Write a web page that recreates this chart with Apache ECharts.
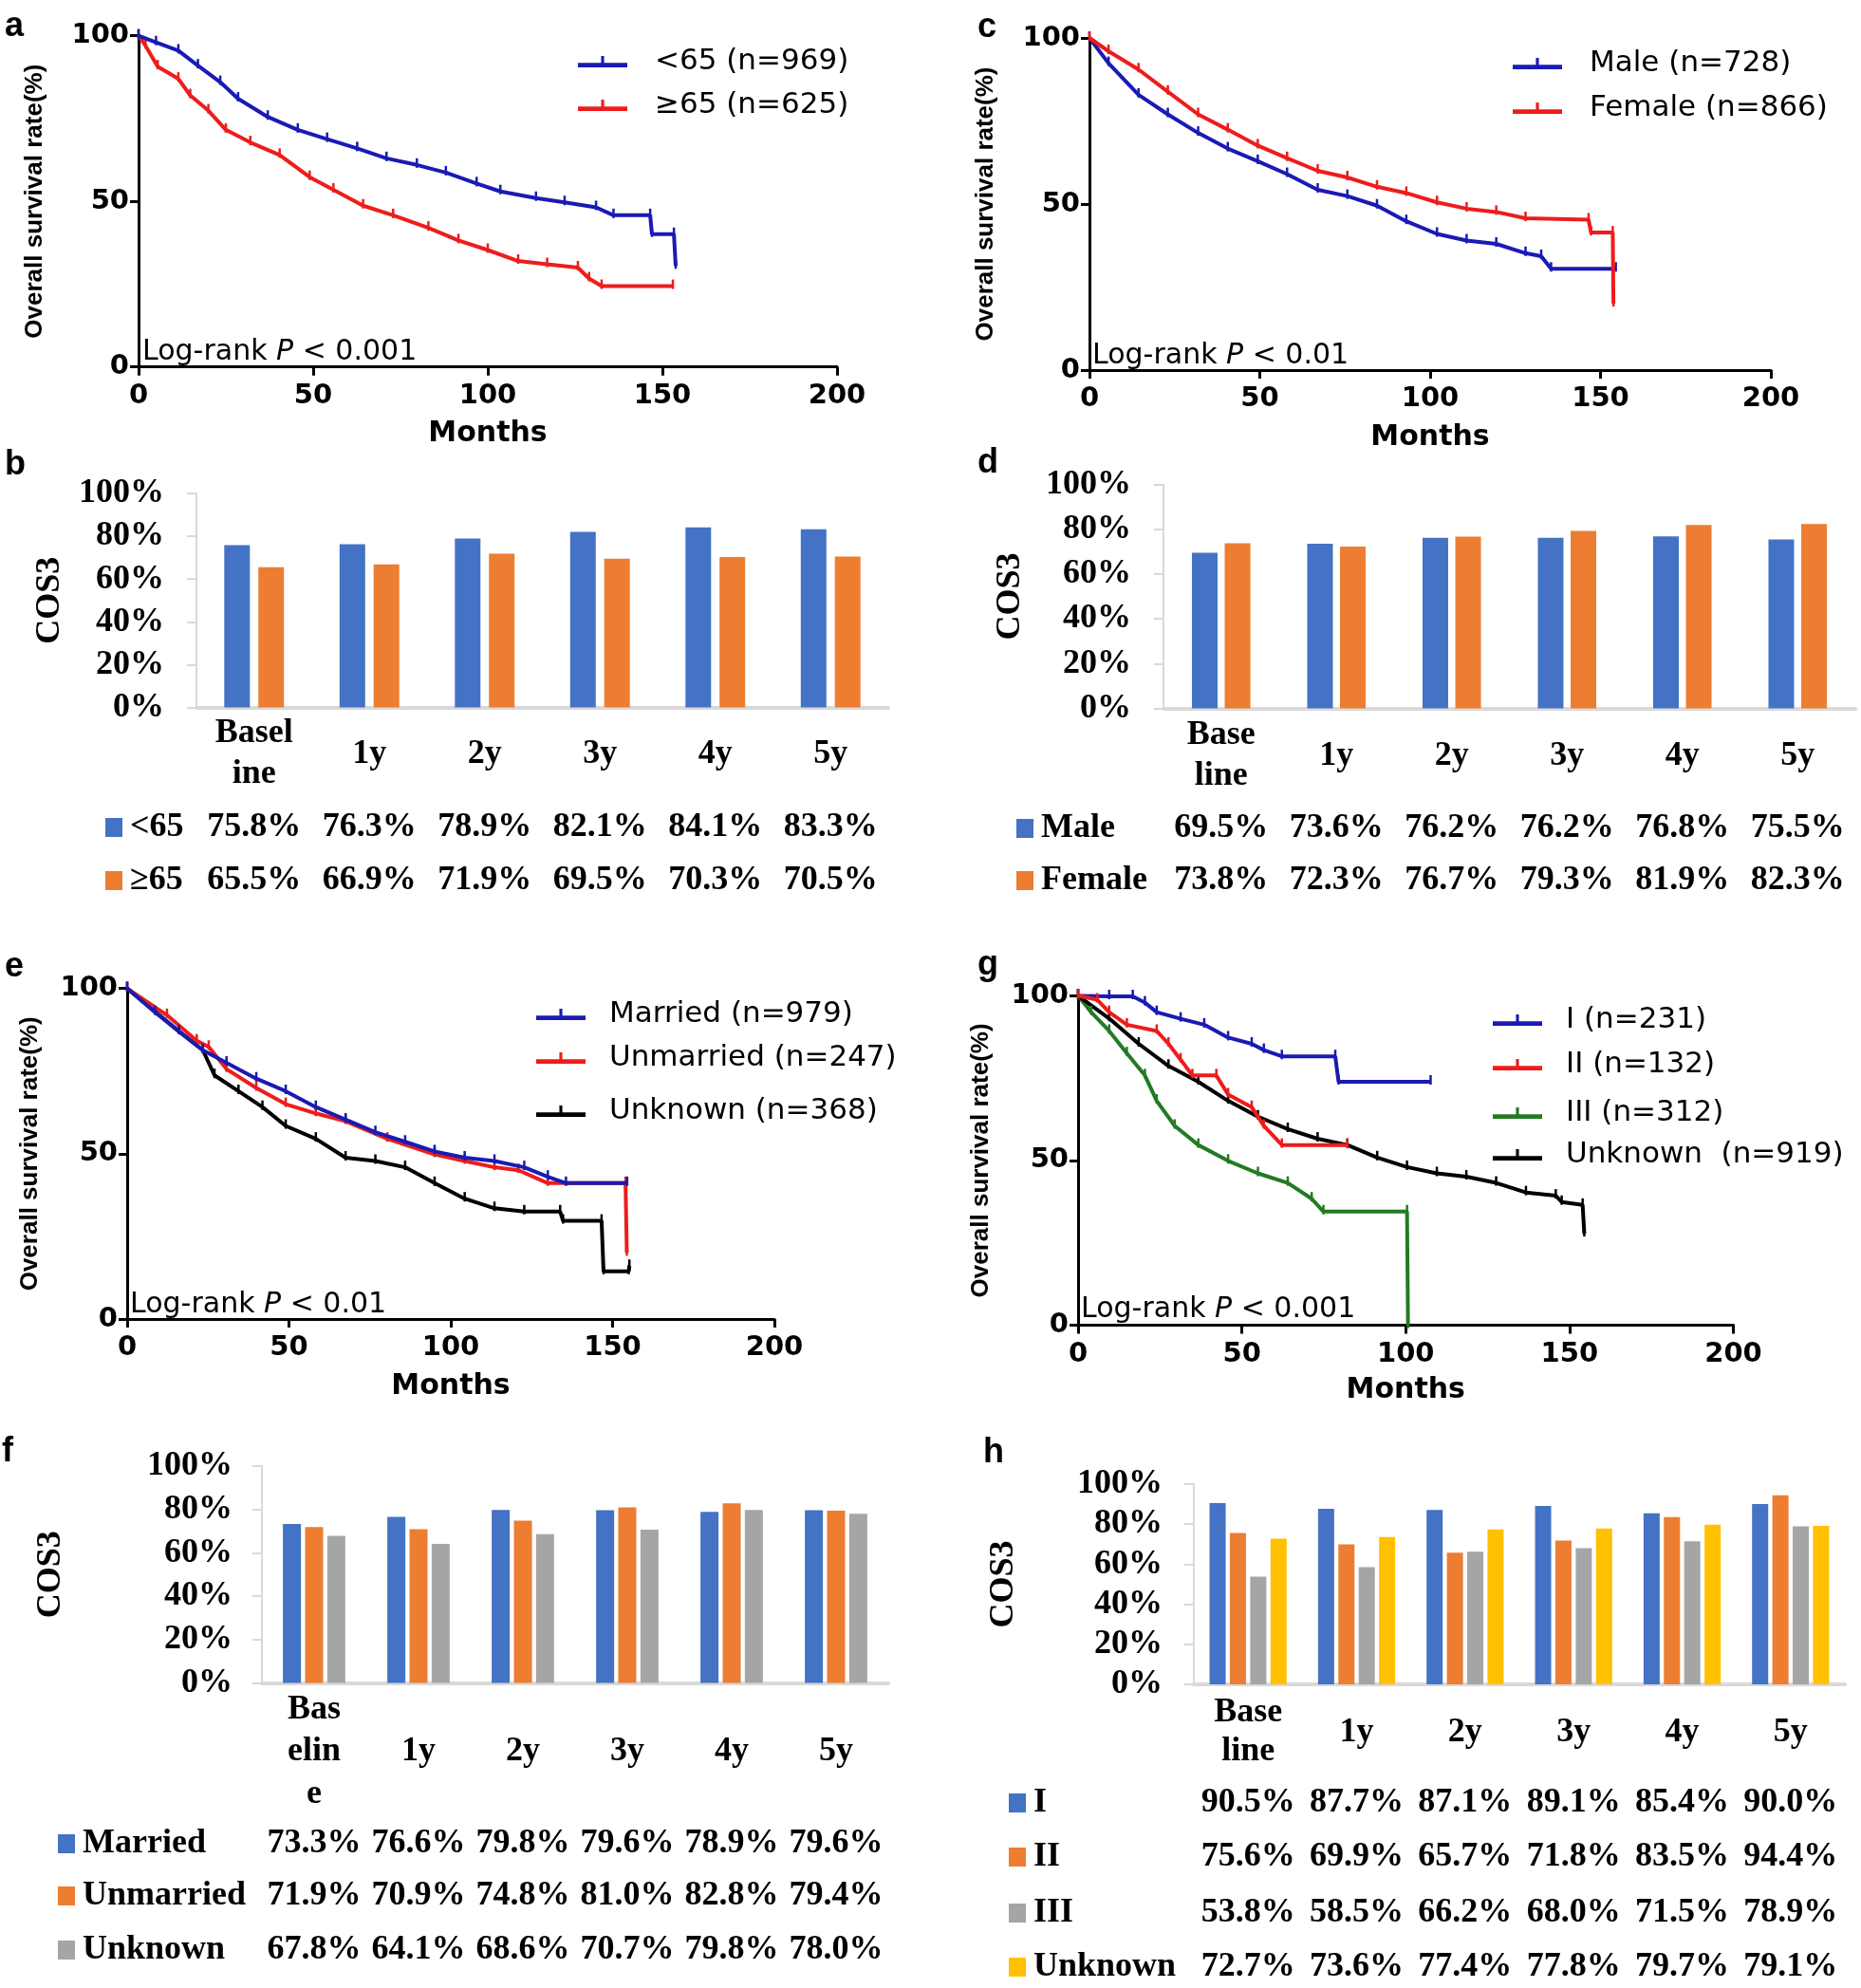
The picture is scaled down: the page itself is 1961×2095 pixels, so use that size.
<!DOCTYPE html>
<html><head><meta charset="utf-8">
<script src="https://cdn.jsdelivr.net/npm/echarts@6/dist/echarts.min.js"></script>
<style>html,body{margin:0;padding:0;background:#fff}#c{width:1961px;height:2095px}</style>
</head><body><div id="c"></div>
<script>
// ================= DATA =================
// Kaplan-Meier curves: [months, survival %]
const kmA_names = ['<65 (n=969)', '≥65 (n=625)'];
const kmA_lt65 = [[0,100],[5,98],[11.4,95.5],[17,91],[23.4,86],[28.5,81],[37,75.5],[45.6,71.6],[54,68.8],[62.6,66],[71,63],[79.7,61],[88,58.7],[96.8,55.4],[103.6,53],[113.8,51],[122,49.7],[131,48.2],[136,45.8],[146.5,45.8],[147,40.1],[153.3,40.1],[153.8,30.5]];
const kmA_ge65 = [[0,100],[2,97],[5.5,90.7],[11.4,87],[14.8,82],[20,77.4],[25,71.6],[32,67.8],[40.4,64],[49,57.3],[55.8,53.5],[64.3,48.7],[72.9,45.8],[83,42],[91.6,38.2],[100,35.3],[108.7,32],[117,31],[125.8,30],[129,26.7],[132.6,24.4],[153,24.4]];

const kmC_names = ['Male (n=728)', 'Female (n=866)'];
const kmC_male = [[0,100],[5.6,92.4],[14.4,82.9],[23,77],[31.9,71.4],[40.6,66.7],[49.4,62.9],[58,59],[67,54.3],[75.7,52.4],[84.4,49.5],[93,44.8],[102,41],[110.7,39],[119.4,38],[128,35.2],[132.6,34.3],[135.5,30.5],[154.5,30.5]];
const kmC_female = [[0,100],[5.6,96],[14.4,90.5],[23,83.8],[31.9,77],[40.6,72.4],[49.4,67.6],[58,63.8],[67,60],[75.7,58],[84.4,55.2],[93,53.3],[102,50.5],[110.7,48.6],[119.4,47.6],[128,45.7],[146.5,45.3],[147.2,41.4],[153.6,41.4],[153.8,20]];

const kmE_names = ['Married (n=979)', 'Unmarried (n=247)', 'Unknown (n=368)'];
const kmE_married = [[0,100],[8.6,92.8],[16,87],[23.4,81.3],[30.7,77.5],[39.9,72.7],[49,68.9],[58.3,64.1],[67.5,60.3],[76.7,56.5],[85.9,53.6],[95,50.7],[104.3,48.8],[113.5,47.8],[122.7,45.9],[130,43],[135.6,41.1],[154.5,41.1]];
const kmE_unmarried = [[0,100],[12.3,91.9],[21.5,84.2],[25.2,82.3],[30.7,75.6],[39.9,69.9],[49,65],[58.3,62.2],[67.5,59.8],[80.4,54.5],[95,49.8],[104.3,47.8],[113.5,45.9],[120.9,45],[130,41.1],[154,41.1],[154.4,20]];
const kmE_unknown = [[0,100],[16,87],[23.4,81.3],[27,73.7],[34.4,68.9],[41.8,64.1],[49,58.4],[58.3,54.5],[67.5,48.8],[76.7,47.8],[85.9,45.9],[95,41.1],[104.3,36.4],[113.5,33.5],[122.7,32.5],[133.8,32.5],[134.7,29.7],[146.6,29.7],[147.2,14.4],[155,14.4],[155.2,16]];

const kmG_names = ['I (n=231)', 'II (n=132)', 'III (n=312)', 'Unknown  (n=919)'];
const kmG_I = [[0,100],[9.5,99.8],[16.7,99.8],[20.4,97.9],[24,95],[31.3,93],[38.5,91.2],[45.8,87.3],[53,85.4],[56.7,83.5],[62.2,81.6],[78.5,81.6],[79.5,73.9],[107.6,73.9]];
const kmG_II = [[0,100],[5.8,98.8],[9.5,95],[14.9,91.2],[24,89.3],[27.6,85.4],[31.3,80.6],[34.9,75.8],[42.2,75.8],[45.8,70],[53,66.2],[56.7,60.5],[62.2,54.7],[82.2,54.7]];
const kmG_III = [[0,100],[4,95],[9.5,89.3],[14.9,82.5],[20.4,75.8],[24,68.1],[29.5,60.5],[36.7,54.7],[45.8,49.9],[54.9,46.1],[64,43.2],[71.3,38.4],[74.9,34.5],[100.4,34.5],[100.7,0]];
const kmG_unknown = [[0,100],[9.5,93.1],[18.5,85.4],[27.6,78.7],[36.7,73.9],[45.8,68.1],[54.9,63.3],[64,59.5],[73.1,56.6],[82.2,54.7],[91.3,50.9],[100.4,48],[109.5,46.1],[118.5,45.1],[127.6,43.2],[136.7,40.3],[145.8,39.3],[147.6,37.4],[154,36.5],[154.5,27.8]];

const kmPvalues = ['< 0.001', '< 0.01', '< 0.01', '< 0.001'];

// COS3 bar charts (%)
const barB_categories = ['Basel\nine', '1y', '2y', '3y', '4y', '5y'];
const barB_names = ['<65', '≥65'];
const barB_lt65 = [75.8, 76.3, 78.9, 82.1, 84.1, 83.3];
const barB_ge65 = [65.5, 66.9, 71.9, 69.5, 70.3, 70.5];

const barD_categories = ['Base\nline', '1y', '2y', '3y', '4y', '5y'];
const barD_names = ['Male', 'Female'];
const barD_male = [69.5, 73.6, 76.2, 76.2, 76.8, 75.5];
const barD_female = [73.8, 72.3, 76.7, 79.3, 81.9, 82.3];

const barF_categories = ['Bas\nelin\ne', '1y', '2y', '3y', '4y', '5y'];
const barF_names = ['Married', 'Unmarried', 'Unknown'];
const barF_married = [73.3, 76.6, 79.8, 79.6, 78.9, 79.6];
const barF_unmarried = [71.9, 70.9, 74.8, 81.0, 82.8, 79.4];
const barF_unknown = [67.8, 64.1, 68.6, 70.7, 79.8, 78.0];

const barH_categories = ['Base\nline', '1y', '2y', '3y', '4y', '5y'];
const barH_names = ['I', 'II', 'III', 'Unknown'];
const barH_I = [90.5, 87.7, 87.1, 89.1, 85.4, 90.0];
const barH_II = [75.6, 69.9, 65.7, 71.8, 83.5, 94.4];
const barH_III = [53.8, 58.5, 66.2, 68.0, 71.5, 78.9];
const barH_unknown = [72.7, 73.6, 77.4, 77.8, 79.7, 79.1];

const kmTicks = {xmin: 0, xmax: 200, xint: 50, ymin: 0, ymax: 100, yint: 50};
const barTicks = {ymin: 0, ymax: 100, yint: 20};

// ================= STYLE / BUILD =================
const SANS = 'DejaVu Sans';
const ARIAL = 'Liberation Sans';
const SERIF = 'Liberation Serif';
const KM_BLUE = '#1a1ab4', KM_RED = '#ee1c1c', KM_GREEN = '#237a23', KM_BLACK = '#000000';
const C_BLUE = '#4472C4', C_ORANGE = '#ED7D31', C_GRAY = '#A5A5A5', C_YELLOW = '#FFC000';
const KM_ICON = 'path://M0,9 L50,9 L50,13.5 L0,13.5 Z M23.5,2 L26.5,2 L26.5,9 L23.5,9 Z';

const option = {
  animation: false, backgroundColor: '#ffffff',
  grid: [], xAxis: [], yAxis: [], series: [], legend: [], graphic: []
};

function panelLabel(t, x, y) {
  option.graphic.push({type: 'text', x: x, y: y, silent: true,
    style: {text: t, fill: '#000', font: 'bold 36px "Liberation Sans"', verticalAlign: 'middle'}});
}

function addKM(cfg) {
  const gi = option.grid.length;
  option.grid.push({left: cfg.left, top: cfg.top, width: cfg.width, height: cfg.height});
  const xi = option.xAxis.length;
  option.xAxis.push({type: 'value', gridIndex: gi, min: kmTicks.xmin, max: kmTicks.xmax, interval: kmTicks.xint,
    name: 'Months', nameLocation: 'middle', nameGap: cfg.xNameGap,
    nameTextStyle: {fontFamily: SANS, fontWeight: 'bold', fontSize: 30, color: '#000'},
    axisLine: {show: true, onZero: false, lineStyle: {color: '#000', width: 3}},
    axisTick: {show: true, length: 9, lineStyle: {color: '#000', width: 3}},
    axisLabel: {fontFamily: SANS, fontWeight: 'bold', fontSize: 29, color: '#000', margin: 16},
    splitLine: {show: false}});
  const yi = option.yAxis.length;
  option.yAxis.push({type: 'value', gridIndex: gi, min: kmTicks.ymin, max: kmTicks.ymax, interval: kmTicks.yint,
    name: 'Overall survival rate(%)', nameLocation: 'middle', nameGap: cfg.yNameGap, nameRotate: 90,
    nameTextStyle: {fontFamily: ARIAL, fontWeight: 'bold', fontSize: 26, color: '#000'},
    axisLine: {show: true, onZero: false, lineStyle: {color: '#000', width: 3}},
    axisTick: {show: true, length: 9, lineStyle: {color: '#000', width: 3}},
    axisLabel: {fontFamily: SANS, fontWeight: 'bold', fontSize: 29, color: '#000', margin: 10},
    splitLine: {show: false}});
  cfg.series.forEach(function (s, k) {
    const nm = cfg.key + '|' + s.name;
    option.series.push({type: 'line', name: nm, xAxisIndex: xi, yAxisIndex: yi, data: s.data,
      showSymbol: true, showAllSymbol: true, symbol: 'rect', symbolSize: [2.5, 10], symbolOffset: [0, -2],
      lineStyle: {color: s.color, width: 4}, itemStyle: {color: s.color},
      emphasis: {disabled: true}, z: s.z || 2});
    option.legend.push({left: cfg.legendLeft, top: cfg.legendRows[k] - 17, padding: 0, orient: 'vertical',
      itemWidth: 52, itemHeight: 15, icon: KM_ICON, data: [nm], selectedMode: false,
      formatter: function (n) { return n.split('|')[1]; },
      textStyle: {fontFamily: SANS, fontSize: 31, color: '#000', lineHeight: 34, padding: [0, 0, 0, cfg.legendPad]}});
  });
  option.graphic.push({type: 'text', x: cfg.pX, y: cfg.pY, silent: true,
    style: {text: '{n|Log-rank }{i|P}{n| ' + cfg.p + '}', fill: '#000', verticalAlign: 'middle',
      rich: {n: {fontFamily: SANS, fontSize: 30, fill: '#000'}, i: {fontFamily: SANS, fontStyle: 'italic', fontSize: 30, fill: '#000'}}}});
}

function addBar(cfg) {
  const gi = option.grid.length;
  option.grid.push({left: cfg.left, top: cfg.top, width: cfg.width, height: cfg.height});
  const xi = option.xAxis.length;
  const tfont = {fontFamily: SERIF, fontWeight: 'bold', fontSize: 36, color: '#000'};
  option.xAxis.push({type: 'category', gridIndex: gi, data: cfg.categories,
    axisLine: {show: true, lineStyle: {color: '#D9D9D9', width: 4}}, axisTick: {show: false},
    axisLabel: Object.assign({interval: 0, margin: cfg.catMargin, verticalAlign: 'middle', lineHeight: cfg.catLineHeight}, tfont),
    splitLine: {show: false}});
  cfg.series.forEach(function (s, k) {
    option.xAxis.push({type: 'category', gridIndex: gi, data: cfg.categories, position: 'bottom', offset: cfg.rowOffsets[k],
      axisLine: {show: false}, axisTick: {show: false}, splitLine: {show: false},
      axisLabel: Object.assign({interval: 0, margin: 0, verticalAlign: 'middle',
        formatter: function (v, i) { return s.values[i].toFixed(1) + '%'; }}, tfont)});
  });
  const yi = option.yAxis.length;
  option.yAxis.push({type: 'value', gridIndex: gi, min: barTicks.ymin, max: barTicks.ymax, interval: barTicks.yint,
    name: 'COS3', nameLocation: 'middle', nameGap: cfg.yNameGap, nameRotate: 90,
    nameTextStyle: {fontFamily: SERIF, fontWeight: 'bold', fontSize: 36, color: '#000'},
    axisLine: {show: true, lineStyle: {color: '#D9D9D9', width: 2}},
    axisTick: {show: true, length: 10, lineStyle: {color: '#D9D9D9', width: 2}},
    axisLabel: Object.assign({formatter: '{value}%', margin: cfg.yLabelMargin}, tfont),
    splitLine: {show: false}});
  const baseY = cfg.top + cfg.height;
  cfg.series.forEach(function (s, k) {
    const nm = cfg.key + '|' + s.name;
    option.series.push({type: 'bar', name: nm, xAxisIndex: xi, yAxisIndex: yi, data: s.values,
      barWidth: cfg.barWidth, barGap: cfg.barGap, itemStyle: {color: s.color}, emphasis: {disabled: true}});
    option.legend.push({left: cfg.legendLeft, top: baseY + cfg.rowOffsets[k] - 19, padding: 0, orient: 'vertical',
      itemWidth: 18, itemHeight: 20, icon: 'rect', data: [nm], selectedMode: false,
      formatter: function (n) { return n.split('|')[1]; },
      textStyle: {fontFamily: SERIF, fontWeight: 'bold', fontSize: 36, color: '#000', lineHeight: 38, padding: [0, 0, 0, 3]}});
  });
}

// ---- panel a ----
panelLabel('a', 5, 28);
addKM({key: 'a', left: 146, top: 37.7, width: 736, height: 349, xNameGap: 56, yNameGap: 96,
  legendLeft: 609, legendRows: [65, 111], legendPad: 24, pX: 150, pY: 371, p: kmPvalues[0],
  series: [{name: kmA_names[0], data: kmA_lt65, color: KM_BLUE, z: 3}, {name: kmA_names[1], data: kmA_ge65, color: KM_RED}]});
// ---- panel c ----
panelLabel('c', 1030, 29);
addKM({key: 'c', left: 1148, top: 40, width: 718, height: 350, xNameGap: 56, yNameGap: 96,
  legendLeft: 1594, legendRows: [67, 114], legendPad: 24, pX: 1151, pY: 375, p: kmPvalues[1],
  series: [{name: kmC_names[0], data: kmC_male, color: KM_BLUE}, {name: kmC_names[1], data: kmC_female, color: KM_RED, z: 3}]});
// ---- panel e ----
panelLabel('e', 5, 1019);
addKM({key: 'e', left: 134, top: 1041.6, width: 682, height: 348.4, xNameGap: 56, yNameGap: 89,
  legendLeft: 565, legendRows: [1069, 1115, 1171], legendPad: 20, pX: 137, pY: 1375, p: kmPvalues[2],
  series: [{name: kmE_names[0], data: kmE_married, color: KM_BLUE, z: 4}, {name: kmE_names[1], data: kmE_unmarried, color: KM_RED, z: 3},
           {name: kmE_names[2], data: kmE_unknown, color: KM_BLACK}]});
// ---- panel g ----
panelLabel('g', 1030, 1017);
addKM({key: 'g', left: 1136, top: 1049.3, width: 690.5, height: 347.3, xNameGap: 54, yNameGap: 89,
  legendLeft: 1573, legendRows: [1075, 1122, 1173, 1217], legendPad: 20, pX: 1139, pY: 1380, p: kmPvalues[3],
  series: [{name: kmG_names[0], data: kmG_I, color: KM_BLUE}, {name: kmG_names[1], data: kmG_II, color: KM_RED, z: 3},
           {name: kmG_names[2], data: kmG_III, color: KM_GREEN}, {name: kmG_names[3], data: kmG_unknown, color: KM_BLACK}]});

// ---- panel b ----
panelLabel('b', 5, 490);
addBar({key: 'b', left: 207, top: 520, width: 729, height: 225.6, categories: barB_categories,
  catMargin: 49, catLineHeight: 43, rowOffsets: [126.4, 182.4], yNameGap: 136, yLabelMargin: 34,
  barWidth: 27, barGap: '33%', legendLeft: 111,
  series: [{name: barB_names[0], values: barB_lt65, color: C_BLUE}, {name: barB_names[1], values: barB_ge65, color: C_ORANGE}]});
// ---- panel d ----
panelLabel('d', 1030, 488);
addBar({key: 'd', left: 1226, top: 510.6, width: 729, height: 236, categories: barD_categories,
  catMargin: 50, catLineHeight: 43, rowOffsets: [126.4, 181.4], yNameGap: 143, yLabelMargin: 34,
  barWidth: 27, barGap: '28%', legendLeft: 1071,
  series: [{name: barD_names[0], values: barD_male, color: C_BLUE}, {name: barD_names[1], values: barD_female, color: C_ORANGE}]});
// ---- panel f ----
panelLabel('f', 2, 1530);
addBar({key: 'f', left: 276, top: 1545, width: 660, height: 228.5, categories: barF_categories,
  catMargin: 72.5, catLineHeight: 44.5, rowOffsets: [169.5, 224.5, 281.5], yNameGap: 204, yLabelMargin: 31,
  barWidth: 19, barGap: '23%', legendLeft: 61,
  series: [{name: barF_names[0], values: barF_married, color: C_BLUE}, {name: barF_names[1], values: barF_unmarried, color: C_ORANGE},
           {name: barF_names[2], values: barF_unknown, color: C_GRAY}]});
// ---- panel h ----
panelLabel('h', 1036, 1531);
addBar({key: 'h', left: 1258, top: 1564, width: 686, height: 211, categories: barH_categories,
  catMargin: 50.5, catLineHeight: 41, rowOffsets: [125, 182, 241, 298], yNameGap: 182, yLabelMargin: 33,
  barWidth: 17, barGap: '26%', legendLeft: 1063,
  series: [{name: barH_names[0], values: barH_I, color: C_BLUE}, {name: barH_names[1], values: barH_II, color: C_ORANGE},
           {name: barH_names[2], values: barH_III, color: C_GRAY}, {name: barH_names[3], values: barH_unknown, color: C_YELLOW}]});

const chart = echarts.init(document.getElementById('c'), null, {renderer: 'canvas'});
chart.setOption(option);
</script>
</body></html>
